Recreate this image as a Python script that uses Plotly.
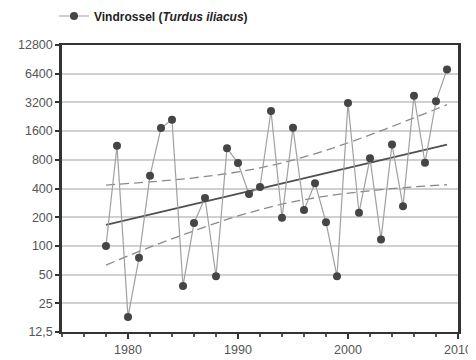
import plotly.graph_objects as go

years = list(range(1978, 2010))
counts = [100, 1120, 18, 75, 545, 1720, 2100, 38, 174, 318, 48, 1060,
          740, 350, 415, 2600, 197, 1730, 238, 455, 177, 48, 3150, 223,
          830, 117, 1160, 260, 3750, 745, 3300, 7100]

trend_years = [1978, 2009]
trend_vals = [166, 1152]

band_years = [1978, 1982, 1986, 1990, 1994, 1998, 2002, 2006, 2009]
band_upper = [435, 469, 518, 597, 742, 1006, 1460, 2200, 3030]
band_lower = [63, 97, 144, 206, 274, 333, 379, 416, 438]

y_ticks = [12.5, 25, 50, 100, 200, 400, 800, 1600, 3200, 6400, 12800]
y_ticktext = ["12,5", "25", "50", "100", "200", "400", "800", "1600", "3200", "6400", "12800"]
x_ticks = [1980, 1990, 2000, 2010]

series_name = "<b>Vindrossel (<i>Turdus iliacus</i>)</b>"

# page body has an 8px margin; figure is sized so the plot lands where the reference has it
W, H = 468, 352

fig = go.Figure()

fig.add_trace(go.Scatter(x=band_years, y=band_upper, mode="lines",
                         line=dict(color="#8a8a8a", width=1.3, dash="9px,5px", shape="spline"),
                         showlegend=False, hoverinfo="skip"))
fig.add_trace(go.Scatter(x=band_years, y=band_lower, mode="lines",
                         line=dict(color="#8a8a8a", width=1.3, dash="9px,5px", shape="spline"),
                         showlegend=False, hoverinfo="skip"))
fig.add_trace(go.Scatter(x=trend_years, y=trend_vals, mode="lines",
                         line=dict(color="#505050", width=1.8),
                         showlegend=False, hoverinfo="skip"))
fig.add_trace(go.Scatter(x=years, y=counts, mode="lines+markers", name=series_name,
                         line=dict(color="#a0a0a0", width=1.2),
                         marker=dict(color="#454545", size=8)))

fig.update_layout(
    width=W, height=H,
    margin=dict(l=54, r=18, t=37, b=28, autoexpand=False),
    paper_bgcolor="white", plot_bgcolor="white",
    font=dict(family="Liberation Sans, Arial, sans-serif", size=12.5, color="#444444"),
    showlegend=True,
    legend=dict(x=46 / W, y=1 - 8 / H, xref="container", yref="container",
                xanchor="left", yanchor="middle",
                bgcolor="rgba(0,0,0,0)", borderwidth=0,
                font=dict(size=12, color="#222222")),
)

fig.update_xaxes(
    range=[1974, 2010], tickvals=x_ticks, ticks="outside", ticklen=5,
    tickwidth=1.5, tickcolor="#333333",
    minor=dict(dtick=2, tick0=1974, ticks="outside", ticklen=3, tickcolor="#555555", showgrid=False),
    showgrid=False, showline=True, linecolor="#333333", linewidth=2, mirror=True,
    zeroline=False, tickfont=dict(size=12.5, color="#555555"),
)
fig.update_yaxes(
    type="log", range=[1.09691, 4.10721], tickvals=y_ticks, ticktext=y_ticktext,
    ticks="outside", ticklen=4, tickwidth=1.5, tickcolor="#333333",
    showgrid=True, gridcolor="#d0d0d0", gridwidth=2,
    showline=True, linecolor="#333333", linewidth=2.5, mirror=True,
    zeroline=False, tickfont=dict(size=12.5, color="#555555"),
)

fig.write_html("out.html")
